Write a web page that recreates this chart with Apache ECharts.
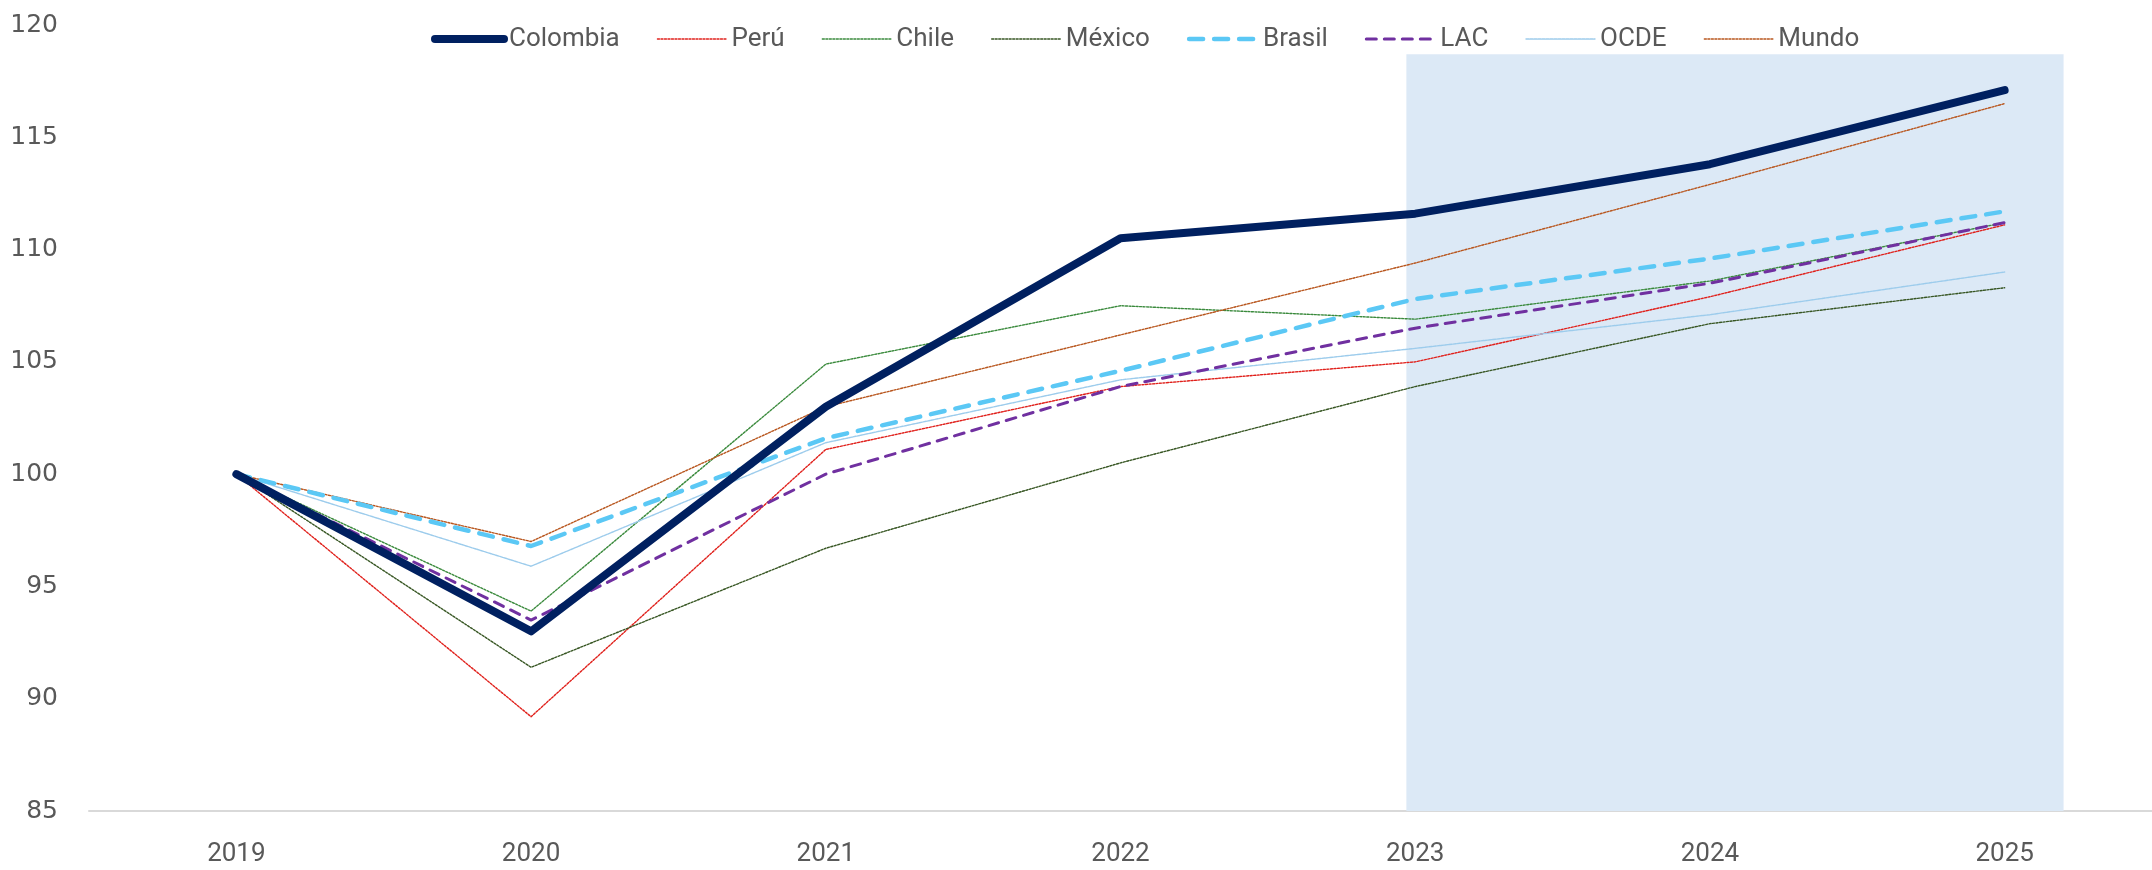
<!DOCTYPE html>
<html>
<head>
<meta charset="utf-8">
<script src="https://cdn.jsdelivr.net/npm/echarts@6/dist/echarts.min.js"></script>
<style>
  html, body { margin: 0; padding: 0; background: #fff; }
  #chart { width: 2152px; height: 870px; }
</style>
</head>
<body>
<div id="chart"></div>
<script>
// --- data (index 2019 = 100) ---
var years    = ['2019', '2020', '2021', '2022', '2023', '2024', '2025'];
var colombia = [100, 93.0, 103.0, 110.5, 111.6, 113.8, 117.1];
var peru     = [100, 89.2, 101.1, 103.9, 105.0, 107.9, 111.1];
var chile    = [100, 93.9, 104.9, 107.5, 106.9, 108.6, 111.2];
var mexico   = [100, 91.4, 96.7, 100.5, 103.9, 106.7, 108.3];
var brasil   = [100, 96.8, 101.6, 104.6, 107.8, 109.6, 111.7];
var lac      = [100, 93.5, 100.0, 103.9, 106.5, 108.5, 111.2];
var ocde     = [100, 95.9, 101.4, 104.2, 105.6, 107.1, 109.0];
var mundo    = [100, 97.0, 103.0, 106.2, 109.4, 112.9, 116.5];
var names    = ['Colombia', 'Perú', 'Chile', 'México', 'Brasil', 'LAC', 'OCDE', 'Mundo'];
var yMin = 85, yMax = 120, yStep = 5;
// projection period shading (category index units, value units)
var shadeX = [3.97, 6.2];
var shadeY = [85, 118.7];

(function() {
  var grey = '#595959';
  var font = 'Roboto, sans-serif';

  function line(name, data, color, width, type, z) {
    return {
      name: name,
      type: 'line',
      data: data,
      symbol: 'none',
      z: z,
      lineStyle: { color: color, width: width, type: type, cap: 'round', join: 'round' },
      itemStyle: { color: color }
    };
  }

  var chart = echarts.init(document.getElementById('chart'), null, { renderer: 'canvas' });
  chart.setOption({
    animation: false,
    grid: { top: 25, left: 89, right: 0, bottom: 59, containLabel: false },
    legend: {
      data: names,
      left: 426,
      top: 21,
      itemWidth: 69,
      itemHeight: 14,
      itemGap: 37,
      itemStyle: { opacity: 0 },
      lineStyle: { width: 'inherit', type: 'inherit', cap: 'round' },
      textStyle: { fontFamily: font, fontSize: 26, color: grey }
    },
    xAxis: [{
      type: 'category',
      data: years,
      axisLine: { lineStyle: { color: '#D9D9D9', width: 2 } },
      axisTick: { show: false },
      axisLabel: { fontFamily: font, fontSize: 26, color: grey, margin: 30 }
    }, {
      type: 'value',
      min: -0.5,
      max: 6.5,
      show: false
    }],
    yAxis: {
      type: 'value',
      min: yMin,
      max: yMax,
      interval: yStep,
      axisLine: { show: false },
      axisTick: { show: false },
      splitLine: { show: false },
      axisLabel: { fontFamily: '"DejaVu Sans", sans-serif', fontSize: 25, color: grey, margin: 31 }
    },
    series: [
      {
        type: 'line',
        xAxisIndex: 1,
        data: [],
        z: 1,
        silent: true,
        markArea: {
          silent: true,
          itemStyle: { color: '#DCE9F6' },
          data: [[{ xAxis: shadeX[0], yAxis: shadeY[0] }, { xAxis: shadeX[1], yAxis: shadeY[1] }]]
        }
      },
      line('Colombia', colombia, '#002060', 8, 'solid', 10),
      line('Perú', peru, '#E0201B', 1.4, [2, 1.5], 3),
      line('Chile', chile, '#3A8A3C', 1.4, [2, 1.5], 3),
      line('México', mexico, '#375623', 1.4, [2, 1.5], 3),
      line('Brasil', brasil, '#5BC8F5', 4.5, [14, 11], 4),
      line('LAC', lac, '#7030A0', 3, [10, 8], 5),
      line('OCDE', ocde, '#9DCCEC', 1.4, [3, 1], 3),
      line('Mundo', mundo, '#B8561E', 1.4, [2, 1.5], 3)
    ]
  });
  window.addEventListener('resize', function() { chart.resize(); });
})();
</script>
</body>
</html>
